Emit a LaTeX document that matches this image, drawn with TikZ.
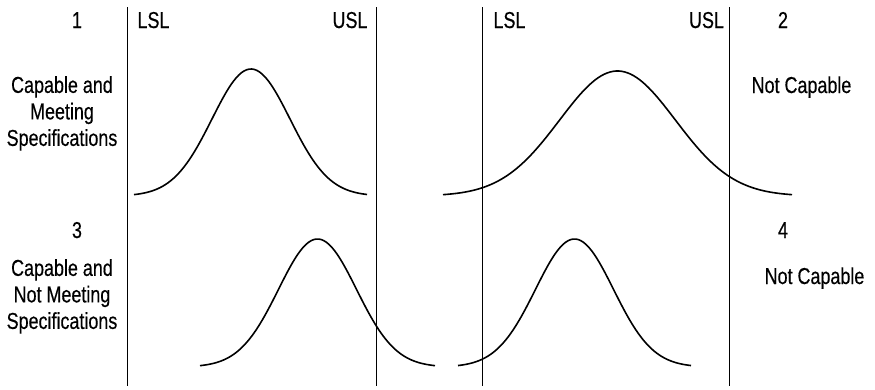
\documentclass[tikz,border=0pt]{standalone}
\usepackage{fontspec}
\setmainfont{Liberation Sans}[FakeStretch=0.78,FakeBold=0.4]
\begin{document}
\begin{tikzpicture}[x=1pt,y=-1pt,
  lbl/.style={inner sep=0pt,anchor=base,font=\fontsize{23}{26.5}\selectfont},
  blk/.style={lbl,align=center},
  limit/.style={line width=0.9pt,black},
  bell/.style={line width=1.6pt,black,smooth}]
\useasboundingbox (0,0) rectangle (875,389);
% limit lines
\coordinate (l1t) at (127,7);   \coordinate (l1b) at (127,386);
\coordinate (u1t) at (376,7);   \coordinate (u1b) at (376,386);
\coordinate (l2t) at (482,7);   \coordinate (l2b) at (482,386);
\coordinate (u2t) at (729,7);   \coordinate (u2b) at (729,386);
\draw[limit] (l1t) -- (l1b);
\draw[limit] (u1t) -- (u1b);
\draw[limit] (l2t) -- (l2b);
\draw[limit] (u2t) -- (u2b);
% header labels
\node[lbl] (n1) at (77,28) {1};
\node[lbl] (lsl1) at (153.5,28) {LSL};
\node[lbl] (usl1) at (350,28) {USL};
\node[lbl] (lsl2) at (509.5,28) {LSL};
\node[lbl] (usl2) at (706.5,28) {USL};
\node[lbl] (n2) at (783,28) {2};
\node[lbl] (n3) at (77,238) {3};
\node[lbl] (n4) at (783,238) {4};
% descriptions
\node[blk,anchor=north] (d1) at (62,76) {Capable and\\Meeting\\Specifications};
\node[blk,anchor=north] (d3) at (62,259) {Capable and\\Not Meeting\\Specifications};
\node[lbl] (d2) at (801.5,93) {Not Capable};
\node[lbl] (d4) at (814.5,284) {Not Capable};
% bell curves
\draw[bell] plot[domain=134:367,samples=90] (\x,{196-127*exp(-((\x-251)/39)^2/2)});
\draw[bell] plot[domain=443:792,samples=120] (\x,{196-125*exp(-((\x-617.5)/58)^2/2)});
\draw[bell] plot[domain=200:435,samples=90] (\x,{367-128*exp(-((\x-317.5)/39)^2/2)});
\draw[bell] plot[domain=458:691,samples=90] (\x,{367-128*exp(-((\x-574.5)/39)^2/2)});
\end{tikzpicture}
\end{document}
